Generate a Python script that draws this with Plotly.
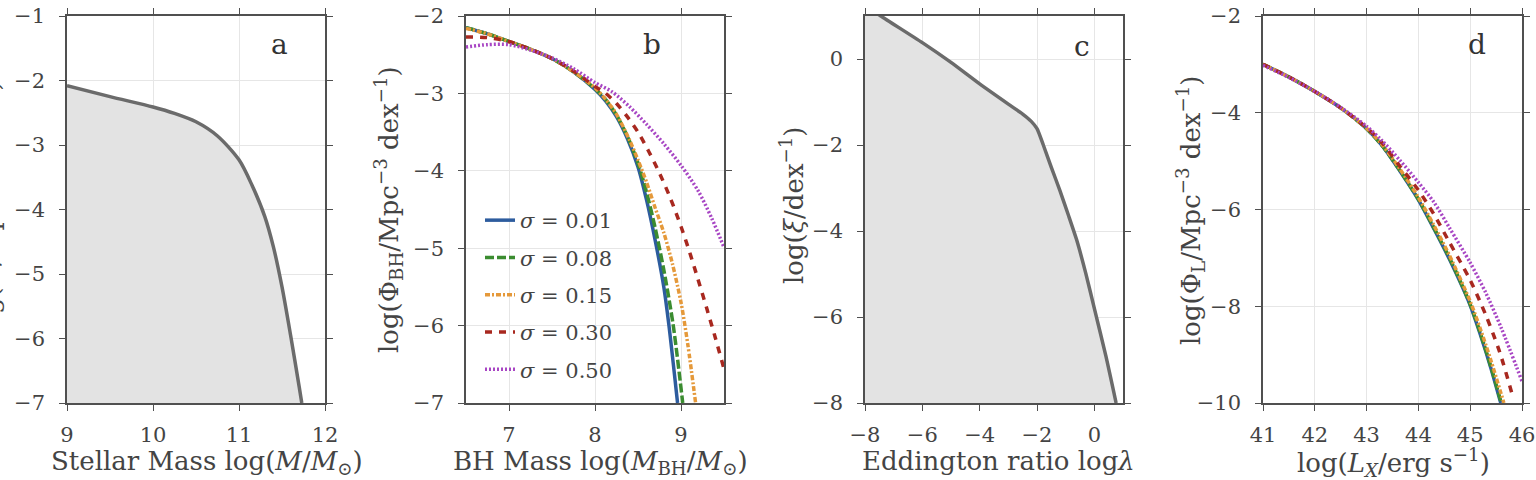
import plotly.graph_objects as go

# ---------------- data ----------------
# panel a: stellar mass function
sm_x = [9.0, 9.5, 10.0, 10.25, 10.5, 10.75, 11.0, 11.15, 11.3, 11.4, 11.5, 11.6, 11.7, 11.73]
sm_y = [-2.08, -2.25, -2.41, -2.51, -2.64, -2.86, -3.23, -3.62, -4.11, -4.58, -5.2, -5.95, -6.75, -7.0]

# panel b: BH mass functions for different scatter
sigma_labels = ["0.01", "0.08", "0.15", "0.30", "0.50"]
bh_x = [
    [6.5, 6.75, 7.0, 7.25, 7.5, 7.75, 8.0, 8.125, 8.25, 8.375, 8.5, 8.6, 8.7, 8.8, 8.86, 8.96],
    [6.5, 6.75, 7.0, 7.25, 7.5, 7.75, 8.0, 8.125, 8.25, 8.375, 8.5, 8.6, 8.7, 8.8, 8.91, 9.02],
    [6.5, 6.75, 7.0, 7.25, 7.5, 7.75, 8.0, 8.125, 8.25, 8.4, 8.5, 8.6, 8.7, 8.8, 8.9, 9.0, 9.08, 9.17],
    [6.5, 6.75, 7.0, 7.25, 7.5, 7.75, 8.0, 8.125, 8.25, 8.375, 8.5, 8.625, 8.75, 8.875, 9.0, 9.1, 9.2, 9.3, 9.4, 9.5],
    [6.5, 6.75, 7.0, 7.25, 7.5, 7.75, 8.0, 8.2, 8.4, 8.6, 8.8, 9.0, 9.2, 9.36, 9.5],
]
bh_y = [
    [-2.15, -2.23, -2.33, -2.43, -2.55, -2.72, -2.95, -3.1, -3.3, -3.58, -3.95, -4.38, -4.9, -5.5, -6.0, -7.0],
    [-2.15, -2.23, -2.33, -2.43, -2.55, -2.72, -2.94, -3.08, -3.28, -3.55, -3.9, -4.28, -4.74, -5.28, -6.0, -7.0],
    [-2.16, -2.23, -2.33, -2.43, -2.55, -2.72, -2.93, -3.08, -3.27, -3.6, -3.86, -4.15, -4.48, -4.8, -5.2, -5.7, -6.25, -7.0],
    [-2.27, -2.28, -2.33, -2.43, -2.55, -2.71, -2.91, -3.0, -3.13, -3.3, -3.5, -3.75, -4.03, -4.35, -4.72, -5.05, -5.41, -5.78, -6.16, -6.56],
    [-2.40, -2.37, -2.37, -2.44, -2.54, -2.68, -2.86, -2.98, -3.17, -3.4, -3.65, -3.93, -4.26, -4.62, -4.99],
]

# panel c: Eddington ratio distribution
ed_x = [-8.0, -7.45, -6.0, -5.0, -4.0, -3.0, -2.5, -2.2, -2.0, -1.78, -1.5, -1.2, -0.9, -0.62, -0.3, 0.0, 0.4, 0.76]
ed_y = [1.25, 1.0, 0.38, -0.08, -0.58, -1.05, -1.28, -1.45, -1.62, -2.0, -2.52, -3.06, -3.64, -4.2, -4.98, -5.8, -6.9, -8.0]

# panel d: X-ray luminosity functions
lx_x = [
    [41.0, 41.5, 42.0, 42.5, 43.0, 43.3, 43.64, 44.0, 44.3, 44.6, 45.0, 45.2, 45.4, 45.59],
    [41.0, 41.5, 42.0, 42.5, 43.0, 43.3, 43.64, 44.0, 44.3, 44.6, 45.0, 45.2, 45.4, 45.6],
    [41.0, 41.5, 42.0, 42.5, 43.0, 43.3, 43.64, 44.0, 44.3, 44.6, 45.0, 45.2, 45.4, 45.65],
    [41.0, 41.5, 42.0, 42.5, 43.0, 43.3, 43.64, 44.0, 44.3, 44.6, 45.0, 45.3, 45.57, 45.83],
    [41.0, 41.5, 42.0, 42.5, 43.0, 43.3, 43.64, 44.0, 44.3, 44.6, 45.0, 45.3, 45.6, 46.0],
]
lx_y = [
    [-3.0, -3.26, -3.56, -3.9, -4.33, -4.68, -5.2, -5.8, -6.4, -7.03, -7.98, -8.6, -9.28, -10.0],
    [-3.0, -3.26, -3.56, -3.9, -4.33, -4.68, -5.19, -5.79, -6.38, -7.0, -7.96, -8.57, -9.25, -10.0],
    [-3.0, -3.26, -3.56, -3.9, -4.32, -4.66, -5.16, -5.75, -6.33, -6.95, -7.9, -8.48, -9.12, -10.0],
    [-3.0, -3.26, -3.56, -3.9, -4.31, -4.62, -5.1, -5.6, -6.1, -6.68, -7.46, -8.18, -8.95, -9.9],
    [-3.02, -3.27, -3.56, -3.89, -4.28, -4.58, -4.98, -5.44, -5.85, -6.38, -7.1, -7.72, -8.45, -9.55],
]

colors = ["#2d5c9e", "#3b8c30", "#e5993a", "#a8281f", "#a846c4"]
dashes = ["solid", "9px,3px", "5px,2px,2px,2px", "7px,7px", "2px,2px"]

F = "DejaVu Serif"
AX = "#505050"
GRAY = "#6b6b6b"
FILL = "#e3e3e3"
TXT = "#444444"

fig = go.Figure()

# panel a
fig.add_trace(go.Scatter(x=[sm_x[0], sm_x[-1]], y=[-7, -7], mode="lines", line=dict(width=0),
                         showlegend=False, xaxis="x", yaxis="y", hoverinfo="skip"))
fig.add_trace(go.Scatter(x=sm_x, y=sm_y, mode="lines", line=dict(color=GRAY, width=3.5, shape="spline", smoothing=0.8),
                         fill="tonexty", fillcolor=FILL, showlegend=False, xaxis="x", yaxis="y"))

# panel b
for i in range(5):
    fig.add_trace(go.Scatter(x=bh_x[i], y=bh_y[i], mode="lines",
                             line=dict(color=colors[i], width=3.5, dash=dashes[i], shape="spline", smoothing=0.8),
                             name="<i>σ</i> = " + sigma_labels[i], legendgroup="g%d" % i,
                             showlegend=True, xaxis="x2", yaxis="y2"))

# panel c
fig.add_trace(go.Scatter(x=[ed_x[0], ed_x[-1]], y=[-8, -8], mode="lines", line=dict(width=0),
                         showlegend=False, xaxis="x3", yaxis="y3", hoverinfo="skip"))
fig.add_trace(go.Scatter(x=ed_x, y=ed_y, mode="lines", line=dict(color=GRAY, width=3.5, shape="spline", smoothing=0.6),
                         fill="tonexty", fillcolor=FILL, showlegend=False, xaxis="x3", yaxis="y3"))

# panel d
for i in range(5):
    fig.add_trace(go.Scatter(x=lx_x[i], y=lx_y[i], mode="lines",
                             line=dict(color=colors[i], width=3.5, dash=dashes[i], shape="spline", smoothing=0.8),
                             showlegend=False, xaxis="x4", yaxis="y4"))

W, H = 1536, 480
ytop, ybot = 16, 403
doms = [(67, 325), (466, 724), (865, 1123), (1263, 1522)]
ydom = [(H - ybot) / H, (H - ytop) / H]

base = dict(showline=True, linecolor=AX, linewidth=1.5, mirror="ticks", ticks="outside",
            ticklen=6, tickwidth=1.3, tickcolor=AX, showgrid=True, gridcolor="#e6e6e6", gridwidth=1,
            zeroline=False, automargin=False, tickfont=dict(family=F, size=21, color=TXT))

xranges = [[9, 12], [6.5, 9.5], [-8, 1], [41, 46]]
xticks = [[9, 10, 11, 12], [7, 8, 9], [-8, -6, -4, -2, 0], [41, 42, 43, 44, 45, 46]]
yranges = [[-7, -1], [-7, -2], [-8, 1], [-10, -2]]
yticks = [[-7, -6, -5, -4, -3, -2, -1], [-7, -6, -5, -4, -3, -2], [-8, -6, -4, -2, 0], [-10, -8, -6, -4, -2]]

lay = {}
for k in range(4):
    sx = "" if k == 0 else str(k + 1)
    lay["xaxis" + sx] = dict(base, domain=[doms[k][0] / W, doms[k][1] / W], range=xranges[k],
                             tickvals=xticks[k], anchor="y" + sx, ticklabelstandoff=6)
    lay["yaxis" + sx] = dict(base, domain=ydom, range=yranges[k], tickvals=yticks[k],
                             anchor="x" + sx, ticklabelstandoff=10)

fig.update_layout(**lay)

ann = []
def px2x(p):
    return p / W
def px2y(p):
    return (H - p) / H

tf = dict(family=F, size=26, color=TXT)
# x titles
xt = [
    ("Stellar Mass log(<i>M</i>/<i>M</i><sub>⊙</sub>)", 207, 462),
    ("BH Mass log(<i>M</i><sub>BH</sub>/<i>M</i><sub>⊙</sub>)", 600, 462),
    ("Eddington ratio log<i>λ</i>", 998, 461),
    ("log(<i>L</i><sub><i>X</i></sub>/erg s<sup>−1</sup>)", 1393, 462),
]
for t, x, y in xt:
    ann.append(dict(text=t, x=px2x(x), y=px2y(y), xref="paper", yref="paper", showarrow=False,
                    xanchor="center", yanchor="middle", font=tf))
yt = [
    ("log(Φ/Mpc<sup>−3</sup> dex<sup>−1</sup>)", -12, 210),
    ("log(Φ<sub>BH</sub>/Mpc<sup>−3</sup> dex<sup>−1</sup>)", 388, 210),
    ("log(<i>ξ</i>/dex<sup>−1</sup>)", 792, 205),
    ("log(Φ<sub>L</sub>/Mpc<sup>−3</sup> dex<sup>−1</sup>)", 1190, 210),
]
for t, x, y in yt:
    ann.append(dict(text=t, x=px2x(x), y=px2y(y), xref="paper", yref="paper", showarrow=False,
                    xanchor="center", yanchor="middle", textangle=-90, font=tf))
letters = [("a", 279, 44), ("b", 652, 44), ("c", 1082, 46), ("d", 1477, 44)]
for t, x, y in letters:
    ann.append(dict(text=t, x=px2x(x), y=px2y(y), xref="paper", yref="paper", showarrow=False,
                    xanchor="center", yanchor="middle", font=dict(family=F, size=28, color="#333333")))

fig.update_layout(
    width=W, height=H, margin=dict(l=0, r=0, t=0, b=0, autoexpand=False),
    paper_bgcolor="white", plot_bgcolor="white",
    annotations=ann,
    legend=dict(x=px2x(480), y=px2y(200), xanchor="left", yanchor="top",
                font=dict(family=F, size=21, color=TXT), bgcolor="rgba(0,0,0,0)",
                tracegroupgap=7, itemwidth=30),
)

fig.write_html("out.html")
